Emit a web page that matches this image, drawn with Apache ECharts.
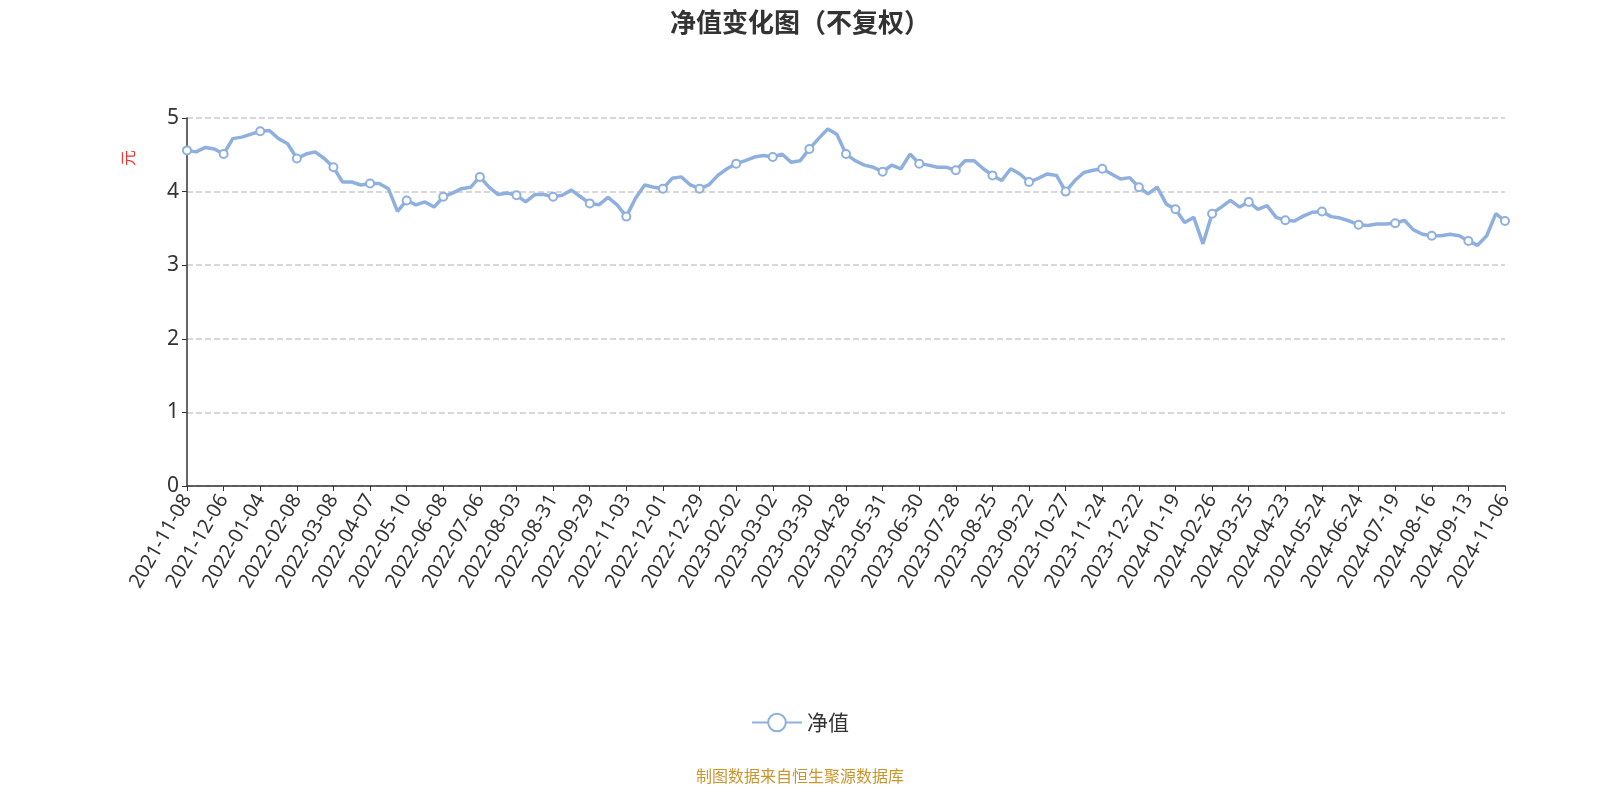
<!DOCTYPE html>
<html lang="zh">
<head>
<meta charset="UTF-8">
<title>净值变化图</title>
<style>html,body{margin:0;background:#fff;}</style>
</head>
<body>
<div id="chart" style="width:1600px;height:800px;"></div>
<script src="https://cdn.jsdelivr.net/npm/echarts@6/dist/echarts.min.js"></script>
<script>
var tickLabels = ['2021-11-08','2021-12-06','2022-01-04','2022-02-08','2022-03-08','2022-04-07','2022-05-10','2022-06-08','2022-07-06','2022-08-03','2022-08-31','2022-09-29','2022-11-03','2022-12-01','2022-12-29','2023-02-02','2023-03-02','2023-03-30','2023-04-28','2023-05-31','2023-06-30','2023-07-28','2023-08-25','2023-09-22','2023-10-27','2023-11-24','2023-12-22','2024-01-19','2024-02-26','2024-03-25','2024-04-23','2024-05-24','2024-06-24','2024-07-19','2024-08-16','2024-09-13','2024-11-06'];
// 净值, 每个刻度间隔取4个点
var navValues = [
4.56,4.54,4.60,4.58,4.51,4.72,4.74,4.78,4.82,4.83,4.72,4.65,4.45,4.51,4.54,4.45,
4.33,4.13,4.13,4.09,4.11,4.11,4.04,3.73,3.88,3.82,3.86,3.79,3.93,3.98,4.04,4.06,
4.20,4.06,3.96,3.98,3.95,3.86,3.96,3.96,3.93,3.95,4.02,3.93,3.84,3.82,3.92,3.82,
3.66,3.91,4.09,4.06,4.04,4.18,4.20,4.09,4.04,4.09,4.22,4.31,4.38,4.42,4.47,4.49,
4.47,4.51,4.40,4.42,4.58,4.72,4.85,4.78,4.51,4.42,4.36,4.33,4.27,4.36,4.31,4.51,
4.38,4.36,4.33,4.33,4.29,4.42,4.42,4.31,4.22,4.15,4.31,4.24,4.13,4.18,4.24,4.22,
4.00,4.15,4.26,4.29,4.31,4.24,4.17,4.19,4.06,3.97,4.06,3.83,3.76,3.58,3.65,3.29,
3.70,3.79,3.88,3.79,3.86,3.76,3.81,3.65,3.61,3.60,3.67,3.72,3.73,3.66,3.64,3.60,
3.55,3.54,3.56,3.56,3.57,3.61,3.48,3.42,3.40,3.40,3.42,3.40,3.33,3.27,3.40,3.70,
3.60
];
var seriesData = navValues.map(function (v, i) {
    return {
        value: [i / 4, v],
        symbolSize: i % 4 === 0 ? 8 : 0
    };
});
var chart = echarts.init(document.getElementById('chart'));
chart.setOption({
    title: {
        text: '净值变化图（不复权）',
        left: 'center',
        top: 4,
        textStyle: {fontSize: 26, fontWeight: 'bold', color: '#333', fontFamily: 'Noto Sans CJK SC'}
    },
    grid: {left: 187, right: 95, top: 118, bottom: 314},
    legend: {
        bottom: 62,
        left: 'center',
        itemWidth: 50,
        itemHeight: 22,
        data: ['净值'],
        textStyle: {fontSize: 21, color: '#333', fontFamily: 'Noto Sans CJK SC'}
    },
    graphic: [{
        type: 'text',
        left: 'center',
        bottom: 16,
        style: {text: '制图数据来自恒生聚源数据库', fill: '#c8962e', fontSize: 16, fontFamily: 'Noto Sans CJK SC'}
    }, {
        type: 'text',
        x: 120,
        y: 166,
        rotation: Math.PI / 2,
        style: {text: '元', fill: '#e33', fontSize: 16, fontFamily: 'Noto Sans CJK SC'}
    }],
    xAxis: {
        type: 'value',
        min: 0,
        max: tickLabels.length - 1,
        interval: 1,
        splitLine: {show: false},
        axisLine: {lineStyle: {color: '#333', width: 1.5}},
        axisTick: {show: true, lineStyle: {color: '#333'}},
        axisLabel: {
            rotate: 60,
            fontSize: 20,
            color: '#333',
            margin: 10,
            fontFamily: 'Noto Sans',
            formatter: function (v) { return tickLabels[v] || ''; }
        }
    },
    yAxis: {
        type: 'value',
        min: 0,
        max: 5,
        interval: 1,
        axisLine: {show: true, lineStyle: {color: '#333', width: 1.5}},
        axisTick: {show: true, lineStyle: {color: '#333'}},
        axisLabel: {fontSize: 21, color: '#333', fontFamily: 'Noto Sans'},
        splitLine: {lineStyle: {type: 'dashed', color: '#ccc', width: 1.5}}
    },
    series: [{
        name: '净值',
        type: 'line',
        data: seriesData,
        symbol: 'emptyCircle',
        showAllSymbol: true,
        lineStyle: {width: 3.5, color: '#8fb0de'},
        itemStyle: {color: '#8fb0de', borderWidth: 1.5},
        emphasis: {disabled: true}
    }]
});
</script>
</body>
</html>
